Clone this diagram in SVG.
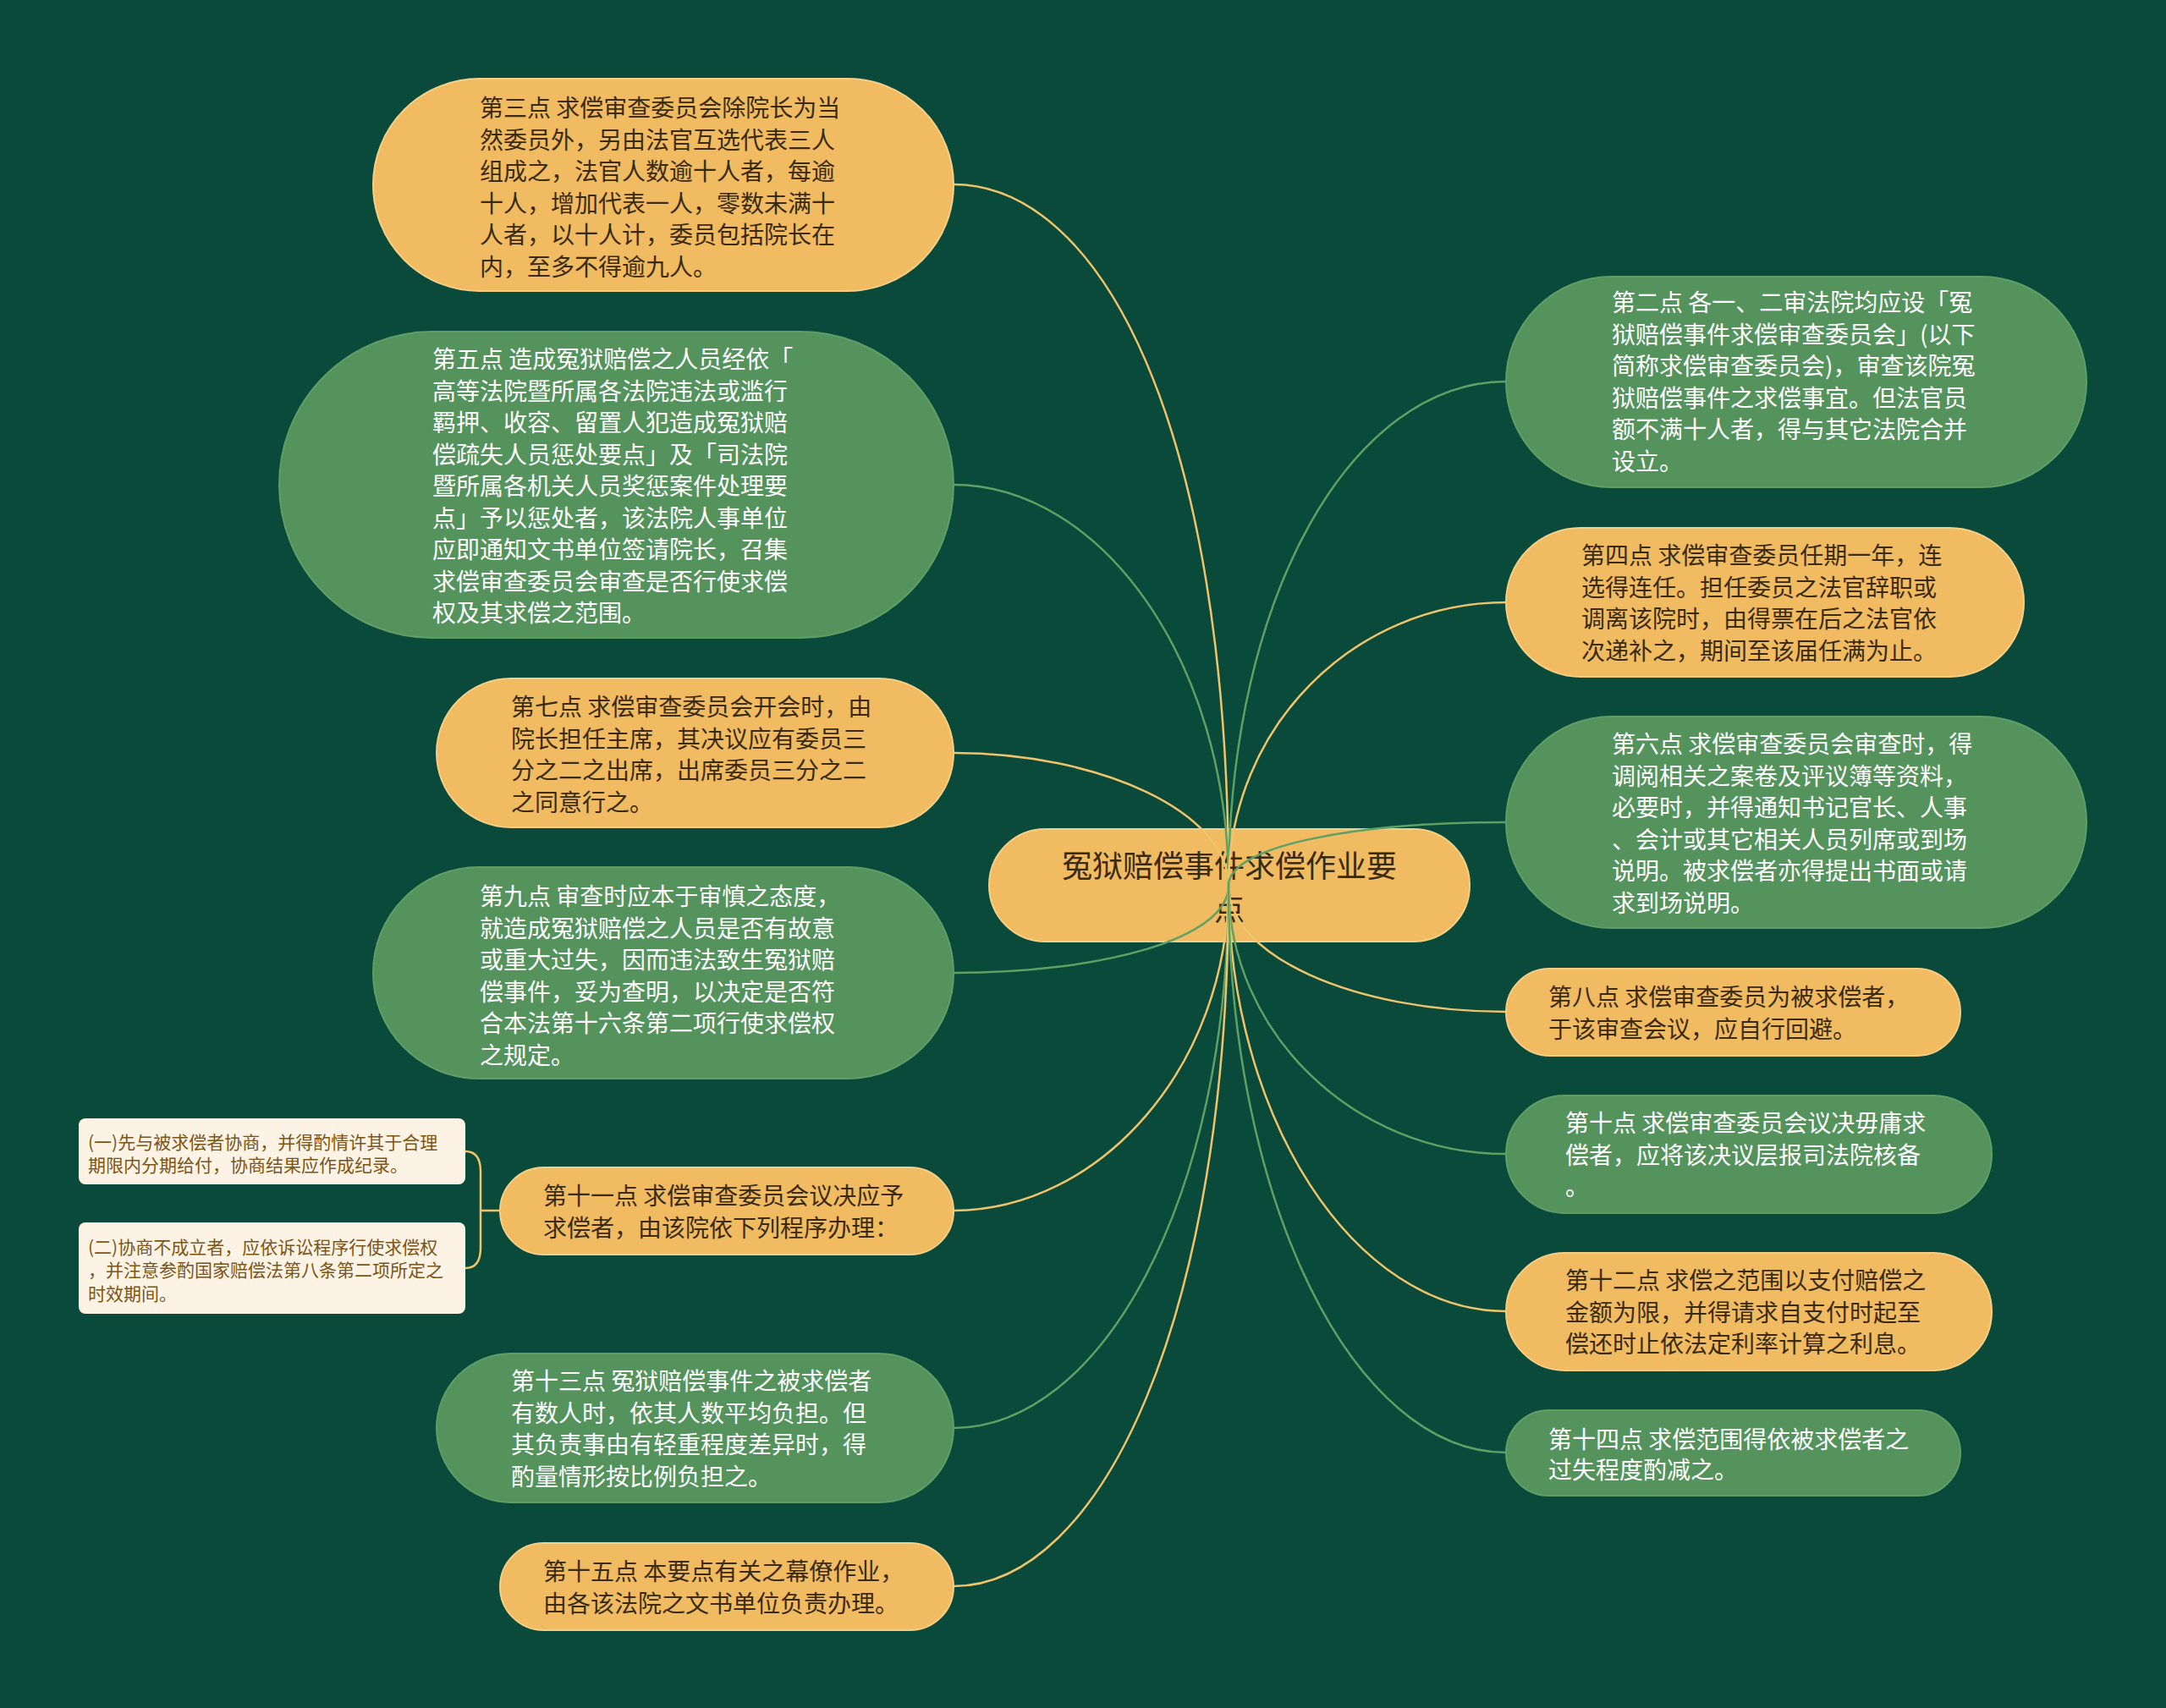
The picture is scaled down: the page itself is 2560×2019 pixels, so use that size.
<svg xmlns="http://www.w3.org/2000/svg" width="2560" height="2019" viewBox="0 0 2560 2019">
<style>
.bg{fill:#0a4a3a}
.y{fill:#f0bb61;stroke:#f5cf86;stroke-width:2}
.g{fill:#55935d;stroke:#5f9f66;stroke-width:2}
.c{fill:#fdf3e4}
text{font-family:"Noto Sans CJK SC","Noto Sans",sans-serif;dominant-baseline:central}
.ty{fill:#3a2a12;font-size:28px}
.tg{fill:#ffffff;font-size:28px}
.tc{fill:#7b5518;font-size:21px}
.tr{fill:#3a2a12;font-size:36px;text-anchor:middle}
.ly{fill:none;stroke:#efc46a;stroke-width:2.5}
.lg{fill:none;stroke:#5fa064;stroke-width:2.5}
</style>
<rect class="bg" x="0" y="0" width="2560" height="2019"/>
<g id="root">
<rect class="y" x="1169" y="980" width="568" height="133" rx="66.5"/>
<text class="tr" x="1453" y="1021">冤狱赔偿事件求偿作业要</text>
<text class="tr" x="1453" y="1072">点</text>
</g>
<g id="connectors">
<path class="ly" d="M1452 1047 C1452 500 1300 218 1127 218"/>
<path class="lg" d="M1452 1047 C1452 780 1300 573 1127 573"/>
<path class="ly" d="M1452 1047 C1452 960 1300 890 1127 890"/>
<path class="lg" d="M1452 1047 C1452 1110 1300 1150 1127 1150"/>
<path class="ly" d="M1452 1047 C1452 1260 1300 1431 1127 1431"/>
<path class="lg" d="M1452 1047 C1452 1420 1300 1688 1127 1688"/>
<path class="ly" d="M1452 1047 C1452 1560 1300 1875 1127 1875"/>
<path class="lg" d="M1452 1047 C1452 700 1600 451 1780 451"/>
<path class="ly" d="M1452 1047 C1452 860 1600 712 1780 712"/>
<path class="lg" d="M1452 1047 C1452 1000 1600 972 1780 972"/>
<path class="ly" d="M1452 1047 C1452 1130 1600 1196 1780 1196"/>
<path class="lg" d="M1452 1047 C1452 1220 1600 1364 1780 1364"/>
<path class="ly" d="M1452 1047 C1452 1320 1600 1550 1780 1550"/>
<path class="lg" d="M1452 1047 C1452 1420 1600 1717 1780 1717"/>
<path class="ly" d="M591 1431 L568 1431 M550 1361 Q568 1361 568 1385 L568 1475 Q568 1499 550 1499"/>
</g>
<g id="n3">
<rect class="y" x="441" y="93" width="686" height="251" rx="125.5"/>
<text class="ty" x="567" y="126">第三点 求偿审查委员会除院长为当</text>
<text class="ty" x="567" y="163.5">然委员外，另由法官互选代表三人</text>
<text class="ty" x="567" y="201">组成之，法官人数逾十人者，每逾</text>
<text class="ty" x="567" y="238.5">十人，增加代表一人，零数未满十</text>
<text class="ty" x="567" y="276">人者，以十人计，委员包括院长在</text>
<text class="ty" x="567" y="313.5">内，至多不得逾九人。</text>
</g>
<g id="n5">
<rect class="g" x="330" y="392" width="797" height="362" rx="181"/>
<text class="tg" x="511" y="423">第五点 造成冤狱赔偿之人员经依「</text>
<text class="tg" x="511" y="460.5">高等法院暨所属各法院违法或滥行</text>
<text class="tg" x="511" y="498">羁押、收容、留置人犯造成冤狱赔</text>
<text class="tg" x="511" y="535.5">偿疏失人员惩处要点」及「司法院</text>
<text class="tg" x="511" y="573">暨所属各机关人员奖惩案件处理要</text>
<text class="tg" x="511" y="610.5">点」予以惩处者，该法院人事单位</text>
<text class="tg" x="511" y="648">应即通知文书单位签请院长，召集</text>
<text class="tg" x="511" y="685.5">求偿审查委员会审查是否行使求偿</text>
<text class="tg" x="511" y="723">权及其求偿之范围。</text>
</g>
<g id="n7">
<rect class="y" x="516" y="802" width="611" height="176" rx="88"/>
<text class="ty" x="604" y="834">第七点 求偿审查委员会开会时，由</text>
<text class="ty" x="604" y="871.5">院长担任主席，其决议应有委员三</text>
<text class="ty" x="604" y="909">分之二之出席，出席委员三分之二</text>
<text class="ty" x="604" y="946.5">之同意行之。</text>
</g>
<g id="n9">
<rect class="g" x="441" y="1025" width="686" height="250" rx="125"/>
<text class="tg" x="567" y="1058">第九点 审查时应本于审慎之态度，</text>
<text class="tg" x="567" y="1095.5">就造成冤狱赔偿之人员是否有故意</text>
<text class="tg" x="567" y="1133">或重大过失，因而违法致生冤狱赔</text>
<text class="tg" x="567" y="1170.5">偿事件，妥为查明，以决定是否符</text>
<text class="tg" x="567" y="1208">合本法第十六条第二项行使求偿权</text>
<text class="tg" x="567" y="1245.5">之规定。</text>
</g>
<g id="n11">
<rect class="y" x="591" y="1380" width="536" height="103" rx="51.5"/>
<text class="ty" x="642" y="1412">第十一点 求偿审查委员会议决应予</text>
<text class="ty" x="642" y="1450">求偿者，由该院依下列程序办理：</text>
</g>
<g id="n11a">
<rect class="c" x="93" y="1322" width="457" height="78" rx="8"/>
<text class="tc" x="104" y="1349">(一)先与被求偿者协商，并得酌情许其于合理</text>
<text class="tc" x="104" y="1376">期限内分期给付，协商结果应作成纪录。</text>
</g>
<g id="n11b">
<rect class="c" x="93" y="1445" width="457" height="108" rx="8"/>
<text class="tc" x="104" y="1473">(二)协商不成立者，应依诉讼程序行使求偿权</text>
<text class="tc" x="104" y="1500">，并注意参酌国家赔偿法第八条第二项所定之</text>
<text class="tc" x="104" y="1528">时效期间。</text>
</g>
<g id="n13">
<rect class="g" x="516" y="1600" width="611" height="176" rx="88"/>
<text class="tg" x="604" y="1631">第十三点 冤狱赔偿事件之被求偿者</text>
<text class="tg" x="604" y="1668.5">有数人时，依其人数平均负担。但</text>
<text class="tg" x="604" y="1706">其负责事由有轻重程度差异时，得</text>
<text class="tg" x="604" y="1743.5">酌量情形按比例负担之。</text>
</g>
<g id="n15">
<rect class="y" x="591" y="1824" width="536" height="103" rx="51.5"/>
<text class="ty" x="642" y="1856">第十五点 本要点有关之幕僚作业，</text>
<text class="ty" x="642" y="1894">由各该法院之文书单位负责办理。</text>
</g>
<g id="n2">
<rect class="g" x="1780" y="327" width="686" height="249" rx="124.5"/>
<text class="tg" x="1905" y="356">第二点 各一、二审法院均应设「冤</text>
<text class="tg" x="1905" y="393.5">狱赔偿事件求偿审查委员会」(以下</text>
<text class="tg" x="1905" y="431">简称求偿审查委员会)，审查该院冤</text>
<text class="tg" x="1905" y="468.5">狱赔偿事件之求偿事宜。但法官员</text>
<text class="tg" x="1905" y="506">额不满十人者，得与其它法院合并</text>
<text class="tg" x="1905" y="543.5">设立。</text>
</g>
<g id="n4">
<rect class="y" x="1780" y="624" width="612" height="176" rx="88"/>
<text class="ty" x="1869" y="655">第四点 求偿审查委员任期一年，连</text>
<text class="ty" x="1869" y="692.5">选得连任。担任委员之法官辞职或</text>
<text class="ty" x="1869" y="730">调离该院时，由得票在后之法官依</text>
<text class="ty" x="1869" y="767.5">次递补之，期间至该届任满为止。</text>
</g>
<g id="n6">
<rect class="g" x="1780" y="847" width="686" height="250" rx="125"/>
<text class="tg" x="1905" y="878">第六点 求偿审查委员会审查时，得</text>
<text class="tg" x="1905" y="915.5">调阅相关之案卷及评议簿等资料，</text>
<text class="tg" x="1905" y="953">必要时，并得通知书记官长、人事</text>
<text class="tg" x="1905" y="990.5">、会计或其它相关人员列席或到场</text>
<text class="tg" x="1905" y="1028">说明。被求偿者亦得提出书面或请</text>
<text class="tg" x="1905" y="1065.5">求到场说明。</text>
</g>
<g id="n8">
<rect class="y" x="1780" y="1145" width="537" height="103" rx="51.5"/>
<text class="ty" x="1830" y="1177">第八点 求偿审查委员为被求偿者，</text>
<text class="ty" x="1830" y="1215">于该审查会议，应自行回避。</text>
</g>
<g id="n10">
<rect class="g" x="1780" y="1295" width="574" height="139" rx="69.5"/>
<text class="tg" x="1850" y="1326">第十点 求偿审查委员会议决毋庸求</text>
<text class="tg" x="1850" y="1363.5">偿者，应将该决议层报司法院核备</text>
<text class="tg" x="1850" y="1401">。</text>
</g>
<g id="n12">
<rect class="y" x="1780" y="1481" width="574" height="139" rx="69.5"/>
<text class="ty" x="1850" y="1512">第十二点 求偿之范围以支付赔偿之</text>
<text class="ty" x="1850" y="1549.5">金额为限，并得请求自支付时起至</text>
<text class="ty" x="1850" y="1587">偿还时止依法定利率计算之利息。</text>
</g>
<g id="n14">
<rect class="g" x="1780" y="1667" width="537" height="101" rx="50.5"/>
<text class="tg" x="1830" y="1700">第十四点 求偿范围得依被求偿者之</text>
<text class="tg" x="1830" y="1736">过失程度酌减之。</text>
</g>
</svg>
